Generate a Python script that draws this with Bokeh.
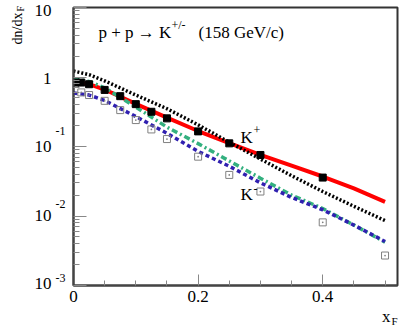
import math
from bokeh.plotting import figure
from bokeh.models import Range1d, FixedTicker, Label, CustomJSTickFormatter
from bokeh.embed import file_html
from bokeh.resources import INLINE

# ---------------- data ----------------
# K+ measured points (filled squares)
xf_kplus = [0.003, 0.0125, 0.025, 0.05, 0.075, 0.1, 0.125, 0.15, 0.2, 0.25, 0.3, 0.4]
dn_kplus = [0.832, 0.832, 0.787, 0.652, 0.530, 0.407, 0.316, 0.254, 0.165, 0.111, 0.0755, 0.0357]
# K- measured points (open squares)
xf_kminus = [0.0125, 0.025, 0.05, 0.075, 0.1, 0.125, 0.15, 0.2, 0.25, 0.3, 0.4, 0.5]
dn_kminus = [0.60, 0.55, 0.454, 0.334, 0.240, 0.176, 0.128, 0.0714, 0.039, 0.0225, 0.0081, 0.0027]
# model curves
xf_model = [0.0, 0.025, 0.05, 0.1, 0.15, 0.2, 0.25, 0.3, 0.35, 0.4, 0.45, 0.5]
kplus_solid = [0.85, 0.79, 0.66, 0.41, 0.26, 0.167, 0.112, 0.076, 0.053, 0.037, 0.025, 0.016]
kplus_dotted = [1.22, 1.08, 0.88, 0.55, 0.35, 0.205, 0.115, 0.066, 0.038, 0.0225, 0.0138, 0.0086]
kminus_dashdot = [0.95, 0.86, 0.70, 0.37, 0.19, 0.11, 0.062, 0.035, 0.020, 0.0128, 0.0074, 0.0042]
kminus_dashed = [0.59, 0.55, 0.46, 0.27, 0.155, 0.085, 0.052, 0.030, 0.0185, 0.0123, 0.0074, 0.0043]

# axis ticks
x_major = [0.0, 0.2, 0.4]
x_major_labels = ["0", "0.2", "0.4"]
x_minor = [0.05, 0.1, 0.15, 0.25, 0.3, 0.35, 0.45, 0.5]
y_major = [10.0, 1.0, 1e-1, 1e-2, 1e-3]          # top to bottom
y_base_labels = ["10", "1", "10", "10", "10"]
y_exp_labels = ["-1", "-2", "-3"]                # for 1e-1, 1e-2, 1e-3
y_minor = [m * 10.0 ** e for e in range(-3, 1) for m in range(2, 10)]

X_MIN, X_MAX = 0.0, 0.52
Y_MIN, Y_MAX = 1e-3, 10.0

W, H = 401, 327
BL, BR, BT, BB = 73, 4, 7, 42

p = figure(width=W, height=H, output_backend="svg", toolbar_location=None,
           x_range=Range1d(X_MIN, X_MAX), y_range=Range1d(Y_MIN, Y_MAX),
           y_axis_type="log", min_border_left=BL, min_border_right=BR,
           min_border_top=BT, min_border_bottom=BB)
p.grid.visible = False
p.background_fill_color = "white"
p.border_fill_color = "white"
p.outline_line_color = "#333333"
p.outline_line_width = 2

# frame geometry in canvas pixels
FL, FR, FT, FB = BL, W - BR, BT, H - BB
DEC = (FB - FT) / (math.log10(Y_MAX) - math.log10(Y_MIN))   # px per decade


def sx2x(sx):
    return X_MIN + (sx - FL) / (FR - FL) * (X_MAX - X_MIN)


def sy2y(sy):
    return 10 ** (math.log10(Y_MIN) + (FB - sy) / DEC)


def y2sy(v):
    return FB - (math.log10(v) - math.log10(Y_MIN)) * DEC


FONT = "Liberation Serif"


def lab(text, sx, sy, size, align="left", baseline="middle", angle=0.0,
        place=None, line_height=1.2):
    lb = Label(x=sx2x(sx), y=sy2y(sy), text=text, text_font=FONT,
               text_font_size=f"{size}px", text_align=align,
               text_baseline=baseline, angle=angle, text_color="black",
               text_line_height=line_height)
    if place is None:
        p.add_layout(lb)
    else:
        p.add_layout(lb, place)


# axes
for ax in (p.xaxis[0], p.yaxis[0]):
    ax.axis_line_color = "#444444"
    ax.axis_line_width = 2
    ax.major_tick_line_color = "#888888"
    ax.minor_tick_line_color = "#888888"
    ax.major_tick_out = 0
    ax.minor_tick_out = 0

p.xaxis.ticker = FixedTicker(ticks=x_major, minor_ticks=x_minor)
p.xaxis.major_tick_in = 11
p.xaxis.minor_tick_in = 5
p.xaxis.major_label_overrides = dict(zip(x_major, x_major_labels))
p.xaxis.major_label_text_font = FONT
p.xaxis.major_label_text_font_size = "17px"
p.xaxis.major_label_text_color = "black"
p.xaxis.major_label_standoff = 5

p.yaxis.ticker = FixedTicker(ticks=y_major, minor_ticks=y_minor)
p.yaxis.major_tick_in = 13
p.yaxis.minor_tick_in = 6
p.yaxis.major_label_standoff = 0
p.yaxis.formatter = CustomJSTickFormatter(code="return ''")

# curves
p.line(xf_model, kplus_solid, line_color="#ff0000", line_width=4)
p.line(xf_model, kplus_dotted, line_color="black", line_width=3.5, line_dash="2 2")
p.line(xf_model, kminus_dashdot, line_color="#33b07f", line_width=3.5, line_dash="6 3 2 3")
p.line(xf_model, kminus_dashed, line_color="#3020b0", line_width=3.5, line_dash="4 3")

# points
p.scatter(xf_kplus, dn_kplus, marker="square", size=7, fill_color="black", line_color="black")
p.scatter(xf_kminus, dn_kminus, marker="square_dot", size=7, fill_color=None,
          line_color="#808080", line_width=1)

# y tick labels: one multi-line label per column (side panel => not clipped)
BASE_SIZE, EXP_SIZE = 17, 12
BASE_STEP = DEC - 2.0          # top label sits a bit below the top tick, as in the original
lab("\n".join(y_base_labels), 51, y2sy(y_major[2]) + 0.5, BASE_SIZE, align="right",
    place="left", line_height=BASE_STEP / (BASE_SIZE * 1.107))
lab("\n".join(y_exp_labels), 55, y2sy(y_major[3]) - 11.5, EXP_SIZE,
    place="left", line_height=DEC / (EXP_SIZE * 1.107))

# y axis title
lab("dn/dx", 17, 12, 14, align="right", baseline="alphabetic", angle=math.pi / 2, place="left")
lab("F", 20, 11, 10, align="left", baseline="alphabetic", angle=math.pi / 2, place="left")

# x axis title
lab("x", 390, 316, 17, align="right", baseline="alphabetic", place="left")
lab("F", 391, 320, 11, baseline="alphabetic", place="left")

# annotations inside the frame
lab("p + p \u2192 K", 98, 32, 17)
lab("+/-", 171, 24, 12)
lab("(158 GeV/c)", 198, 32, 17)
lab("K", 240, 137, 17)
lab("+", 253, 129, 12)
lab("K", 240, 194, 17)
lab("-", 253, 188, 12)

open("out.html", "w").write(file_html(p, INLINE))
